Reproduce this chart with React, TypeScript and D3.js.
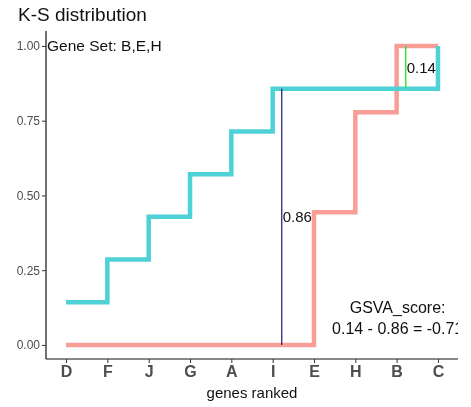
import React, { useRef, useEffect } from 'react';
import * as d3 from 'd3';

const genes = ['D', 'F', 'J', 'G', 'A', 'I', 'E', 'H', 'B', 'C'];
const outsideEcdf = [0.143, 0.286, 0.429, 0.571, 0.714, 0.857, 0.857, 0.857, 0.857, 1.0];
const insideEcdf = [0, 0, 0, 0, 0, 0, 0.444, 0.778, 1.0, 1.0];
const yTicks = [0, 0.25, 0.5, 0.75, 1];
// deviations: x position as gene index, top, bottom, label
const negDev = { pos: 5.22, top: 0.857, bottom: 0, label: '0.86' };
const posDev = { pos: 8.22, top: 1.0, bottom: 0.857, label: '0.14' };
const scoreLines = ['GSVA_score:', '0.14 - 0.86 = -0.71'];

const W = 471, H = 407;
const font = '"Liberation Sans", Arial, sans-serif';

function KSChart() {
    const svgRef = useRef<SVGSVGElement>(null);

    useEffect(() => {
        const svg = d3.select(svgRef.current);
        svg.selectAll('*').remove();

        const left = 46, right = 458, top = 31, bottom = 359;
        const x = d3.scalePoint<string>().domain(genes).range([left, right]).padding(0.485);
        const xi = (i: number) => x(genes[0])! + i * x.step();
        const y = d3.scaleLinear().domain([-0.047, 1.05]).range([bottom, top]);

        svg.append('defs').append('clipPath').attr('id', 'panel')
            .append('rect').attr('x', left).attr('y', top).attr('width', right - left).attr('height', bottom - top);

        const g = svg.append('g').attr('clip-path', 'url(#panel)');

        const line = d3.line<number>()
            .x((d, i) => x(genes[i])!)
            .y(d => y(d))
            .curve(d3.curveStepAfter);

        g.append('path').datum(insideEcdf)
            .attr('d', line).attr('fill', 'none')
            .attr('stroke', '#f99e97').attr('stroke-width', 4.5);
        g.append('path').datum(outsideEcdf)
            .attr('d', line).attr('fill', 'none')
            .attr('stroke', '#4fd2d7').attr('stroke-width', 4.5);

        g.append('line')
            .attr('x1', xi(negDev.pos)).attr('x2', xi(negDev.pos))
            .attr('y1', y(negDev.top)).attr('y2', y(negDev.bottom))
            .attr('stroke', '#191970').attr('stroke-width', 1.2);
        g.append('line')
            .attr('x1', xi(posDev.pos)).attr('x2', xi(posDev.pos))
            .attr('y1', y(posDev.top)).attr('y2', y(posDev.bottom))
            .attr('stroke', '#2ee82e').attr('stroke-width', 1.4);

        [negDev, posDev].forEach(dev => {
            g.append('text').text(dev.label)
                .attr('x', xi(dev.pos) + 1).attr('y', y((dev.top + dev.bottom) / 2))
                .attr('dy', '0.35em').attr('font-size', 15).attr('font-family', font).attr('fill', '#111');
        });

        g.selectAll('.score').data(scoreLines).join('text')
            .text(d => d)
            .attr('x', xi(8) + 1)
            .attr('y', (d, i) => y(0.107) + i * 21)
            .attr('text-anchor', 'middle')
            .attr('font-size', 16).attr('font-family', font).attr('fill', '#111');

        g.append('text').text('Gene Set: B,E,H')
            .attr('x', left + 1).attr('y', y(1)).attr('dy', '0.35em')
            .attr('font-size', 15.5).attr('font-family', font).attr('fill', '#111');

        // axes
        const yAxis = svg.append('g').attr('transform', `translate(${left},0)`)
            .call(d3.axisLeft(y).tickValues(yTicks).tickFormat(d3.format('.2f')).tickSize(4).tickPadding(2));
        yAxis.select('.domain').attr('d', `M0,${top}V${bottom}`).attr('stroke', '#111').attr('stroke-width', 1.2);
        yAxis.selectAll('.tick line').attr('stroke', '#333');
        yAxis.selectAll('.tick text').attr('fill', '#4d4d4d').attr('font-size', 12).attr('font-family', font);

        const xAxis = svg.append('g').attr('transform', `translate(0,${bottom})`)
            .call(d3.axisBottom(x).tickSize(4).tickPadding(3));
        xAxis.select('.domain').attr('d', `M${left},0H${right}`).attr('stroke', '#111').attr('stroke-width', 1.2);
        xAxis.selectAll('.tick line').attr('stroke', '#333');
        xAxis.selectAll('.tick text').attr('fill', '#4d4d4d').attr('font-size', 16)
            .attr('font-weight', 'bold').attr('font-family', font);

        svg.append('text').text('genes ranked')
            .attr('x', (left + right) / 2).attr('y', 398).attr('text-anchor', 'middle')
            .attr('font-size', 15).attr('font-family', font).attr('fill', '#111');

        svg.append('text').text('K-S distribution')
            .attr('x', 18).attr('y', 21)
            .attr('font-size', 19).attr('font-family', font).attr('fill', '#111');
    }, []);

    return (
        <svg ref={svgRef} width={W} height={H}
            style={{ position: 'fixed', top: 0, left: 0, display: 'block' }}></svg>
    );
}

export default function App() {
    return <KSChart />;
}
